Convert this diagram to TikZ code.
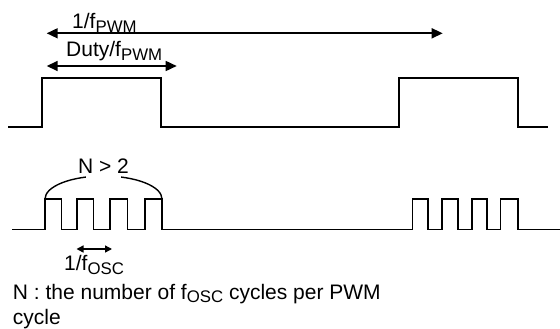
\documentclass[tikz,border=0pt]{standalone}
\usepackage{fontspec}
\setmainfont{Liberation Sans}
\usetikzlibrary{arrows.meta}
\newcommand\mysub[1]{\raisebox{-3.7pt}{\fontsize{16.8}{18}\selectfont #1}}
\tikzset{
  sig/.style={line width=1.9pt, line join=miter},
  dim/.style={line width=1.6pt, {Triangle[length=11pt,width=10pt]}-{Triangle[length=11pt,width=10pt]}},
  dimsmall/.style={line width=1.4pt, {Triangle[length=7pt,width=7pt]}-{Triangle[length=7pt,width=7pt]}},
  lbl/.style={inner sep=0pt, font=\fontsize{21}{25}\selectfont, anchor=base west},
}
\begin{document}
\begin{tikzpicture}[x=1pt,y=-1pt]
\useasboundingbox (0,0) rectangle (560,329);
% PWM signal
\draw[sig] (8,127) -- (41.7,127) -- (41.7,77.7) -- (161.3,77.7) -- (161.3,127)
  -- (399,127) -- (399,77.7) -- (518,77.7) -- (518,127) -- (548,127);
% oscillating signal
\draw[sig] (12,229.5) -- (45,229.5) -- (45,199.3) -- (61.5,199.3) -- (61.5,229.5)
  -- (77,229.5) -- (77,199.3) -- (93.5,199.3) -- (93.5,229.5)
  -- (110,229.5) -- (110,199.3) -- (127.5,199.3) -- (127.5,229.5)
  -- (145,229.5) -- (145,199.3) -- (162,199.3) -- (162,229.5)
  -- (412.5,229.5) -- (412.5,199.3) -- (428,199.3) -- (428,229.5)
  -- (442,229.5) -- (442,199.3) -- (457.8,199.3) -- (457.8,229.5)
  -- (471.8,229.5) -- (471.8,199.3) -- (486.7,199.3) -- (486.7,229.5)
  -- (500.5,229.5) -- (500.5,199.3) -- (517.7,199.3) -- (517.7,229.5)
  -- (560,229.5);
% dimension arrows
\coordinate (pwmL) at (46.7,33.3);
\coordinate (pwmR) at (442.7,33.3);
\coordinate (dutyL) at (46.7,66);
\coordinate (dutyR) at (176.7,66);
\coordinate (oscL) at (76.5,249);
\coordinate (oscR) at (112,249);
\draw[dim] (pwmL) -- (pwmR);
\draw[dim] (dutyL) -- (dutyR);
\draw[dimsmall] (oscL) -- (oscR);
% brace arc
\coordinate (arcL) at (45,199);
\draw[line width=1.4pt] (arcL) arc[start angle=180, end angle=360, x radius=58.5, y radius=23];
% labels
\node[lbl] (tpwm) at (72,28.5) {1/f\mysub{PWM}};
\node[lbl] (tduty) at (66,56.5) {Duty/f\mysub{PWM}};
\node[lbl, anchor=base, fill=white, inner xsep=-7.8pt, inner ysep=5pt] (tN) at (103.5,173.5) {N > 2};
\node[lbl] (tosc) at (64,270.5) {1/f\mysub{OSC}};
\node[lbl] (tnote1) at (12.7,299) {N : the number of f\mysub{OSC} cycles per PWM};
\node[lbl] (tnote2) at (12.7,324) {cycle};
\end{tikzpicture}
\end{document}
